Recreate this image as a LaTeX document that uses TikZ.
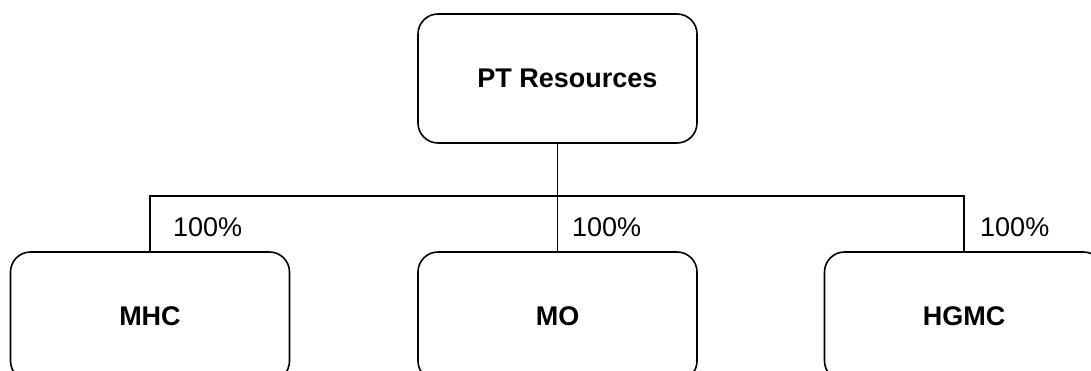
\documentclass[tikz,border=0pt]{standalone}
\usepackage{fontspec}
\setmainfont{Liberation Sans}
\usepackage{tikz}

\begin{document}
\begin{tikzpicture}[x=1pt, y=-1pt, every node/.style={font=\fontsize{27}{30}\selectfont},
  entity/.style={draw=black, line width=1.6pt, rounded corners=20pt, fill=white,
    minimum width=279pt, minimum height=129pt, inner sep=0pt, font=\fontsize{27}{30}\selectfont\bfseries},
  share/.style={anchor=west, inner sep=0pt},
  link/.style={line width=1.2pt}]
\useasboundingbox (0,0) rectangle (1091,371);
\clip (0,0) rectangle (1091,371);
% Parent
\node[entity] (pt) at (557.5,78.5) {\hspace*{20pt}PT Resources};
% Subsidiaries
\node[entity] (mhc) at (150,316.5) {MHC};
\node[entity] (mo) at (557.5,316.5) {MO};
\node[entity] (hgmc) at (964,316.5) {HGMC};
\coordinate (bus) at (557.5,196);
% Connectors
\draw[link] (pt.south) -- (mo.north);
\draw[link] (mhc.north) -- (mhc.north |- bus) -- (hgmc.north |- bus) -- (hgmc.north);
% Ownership
\node[share] (pmhc) at (173,227) {100\%};
\node[share] (pmo) at (572,227) {100\%};
\node[share] (phgmc) at (980,227) {100\%};
\end{tikzpicture}
\end{document}
